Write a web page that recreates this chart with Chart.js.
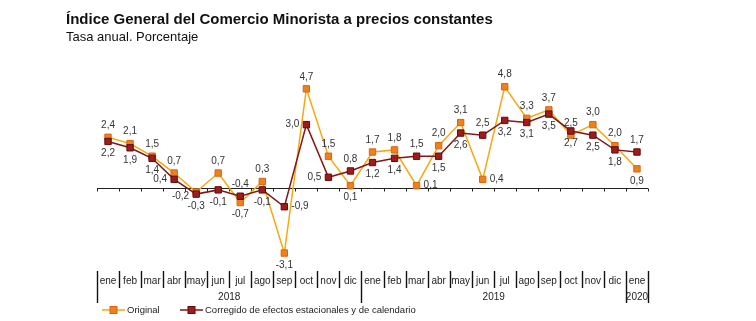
<!DOCTYPE html>
<html>
<head>
<meta charset="utf-8">
<script src="https://cdn.jsdelivr.net/npm/chart.js@4.4.1/dist/chart.umd.min.js"></script>
<style>
  html, body { margin:0; padding:0; background:#fff; }
  #wrap { position:relative; width:756px; height:321px; font-family:"Liberation Sans", Arial, sans-serif; }
  #title { position:absolute; left:66px; top:10px; font-size:15px; font-weight:bold; color:#111; white-space:nowrap; }
  #sub { position:absolute; left:66px; top:29px; font-size:13px; color:#111; white-space:nowrap; }
  #c { position:absolute; left:0; top:0; }
</style>
</head>
<body>
<div id="wrap">
  <canvas id="c" width="756" height="321"></canvas>
  <div id="title">Índice General del Comercio Minorista a precios constantes</div>
  <div id="sub">Tasa anual. Porcentaje</div>
</div>
<script>
// data
const months = ["ene","feb","mar","abr","may","jun","jul","ago","sep","oct","nov","dic",
                "ene","feb","mar","abr","may","jun","jul","ago","sep","oct","nov","dic","ene"];
const years = [{label:"2018", from:0, to:11}, {label:"2019", from:12, to:23}, {label:"2020", from:24, to:24}];
const original = [2.4, 2.1, 1.5, 0.7, -0.2, 0.7, -0.7, 0.3, -3.1, 4.7, 1.5, 0.1,
                  1.7, 1.8, 0.1, 2.0, 3.1, 0.4, 4.8, 3.3, 3.7, 2.5, 3.0, 2.0, 0.9];
const corregido = [2.2, 1.9, 1.4, 0.4, -0.3, -0.1, -0.4, -0.1, -0.9, 3.0, 0.5, 0.8,
                   1.2, 1.4, 1.5, 1.5, 2.6, 2.5, 3.2, 3.1, 3.5, 2.7, 2.5, 1.8, 1.7];
const seriesNames = ["Original", "Corregido de efectos estacionales y de calendario"];

const ORANGE_LINE = "#f5a910", ORANGE_PT = "#f07f1e", ORANGE_EDGE = "#d9660c";
const RED_LINE = "#801818", RED_PT = "#9e1c1c", RED_EDGE = "#5e0d0d";
const FONT = '"Liberation Sans", Arial, sans-serif';

// label placement tweaks: "dataset:index" -> side
const labelSide = {
  "0:4":"left", "1:4":"below", "1:5":"below", "1:3":"left",
  "1:8":"right", "1:9":"left", "1:10":"left",
  "0:14":"right", "0:17":"right",
  "0:21":"above", "1:21":"below"
};

const fmt = v => v.toFixed(1).replace(".", ",");

const labelsPlugin = {
  id: "valueLabels",
  afterDatasetsDraw(chart){
    const c = chart.ctx;
    c.save();
    c.font = "10px " + FONT;
    c.fillStyle = "#333";
    const vals = [original, corregido];
    chart.data.datasets.forEach((ds, di) => {
      const meta = chart.getDatasetMeta(di);
      meta.data.forEach((pt, i) => {
        const v = vals[di][i], other = vals[1-di][i];
        let side = labelSide[di+":"+i] || (v >= other ? (v === other && di === 1 ? "below" : "above") : "below");
        let x = pt.x, y = pt.y;
        c.textBaseline = "middle";
        if (side === "above"){ c.textAlign = "center"; y -= 12; }
        else if (side === "below"){ c.textAlign = "center"; y += 12; }
        else if (side === "left"){ c.textAlign = "right"; x -= 7; y += (di===0?4:0); }
        else { c.textAlign = "left"; x += 7; }
        c.fillText(fmt(v), x, y);
      });
    });
    c.restore();
  }
};

const axisPlugin = {
  id: "catAxis",
  beforeDatasetsDraw(chart){
    const c = chart.ctx, xs = chart.scales.x, ys = chart.scales.y;
    const y0 = Math.round(ys.getPixelForValue(0)) + 0.5;
    const half = (xs.getPixelForValue(1) - xs.getPixelForValue(0)) / 2;
    c.save();
    c.strokeStyle = "#222"; c.lineWidth = 1;
    c.beginPath();
    c.moveTo(xs.left, y0); c.lineTo(xs.right, y0);
    for (let i = 0; i <= months.length; i++){
      const bx = Math.round(xs.getPixelForValue(i) - half) + 0.5;
      c.moveTo(bx, y0); c.lineTo(bx, y0 + 3);
    }
    c.stroke();
    c.restore();
  },
  afterDraw(chart){
    const c = chart.ctx, xs = chart.scales.x;
    const half = (xs.getPixelForValue(1) - xs.getPixelForValue(0)) / 2;
    const top = chart.chartArea.bottom - 1;
    const yearStarts = new Set(years.map(y => y.from).concat([months.length]));
    c.save();
    c.strokeStyle = "#111"; c.lineWidth = 1.4;
    for (let i = 0; i <= months.length; i++){
      const bx = Math.round(xs.getPixelForValue(i) - half) + 0.5;
      c.beginPath();
      c.moveTo(bx, top);
      c.lineTo(bx, yearStarts.has(i) ? top + 32 : top + 17);
      c.stroke();
    }
    c.fillStyle = "#222";
    c.font = "10px " + FONT;
    c.textAlign = "center"; c.textBaseline = "middle";
    months.forEach((m, i) => c.fillText(m, xs.getPixelForValue(i), top + 10));
    years.forEach(y => {
      const cx = (xs.getPixelForValue(y.from) + xs.getPixelForValue(y.to)) / 2;
      c.fillText(y.label, cx, top + 26);
    });
    // legend
    const ly = 310;
    c.font = "9.5px " + FONT;
    const items = [
      {x:102, line:ORANGE_LINE, pt:ORANGE_PT, edge:ORANGE_EDGE},
      {x:180, line:RED_LINE, pt:RED_PT, edge:RED_EDGE}
    ];
    items.forEach((it, k) => {
      c.strokeStyle = it.line; c.lineWidth = 1.5;
      c.beginPath(); c.moveTo(it.x, ly); c.lineTo(it.x + 23, ly); c.stroke();
      c.fillStyle = it.pt; c.strokeStyle = it.edge; c.lineWidth = 1;
      c.fillRect(it.x + 8, ly - 3.5, 7, 7);
      c.strokeRect(it.x + 8, ly - 3.5, 7, 7);
      c.fillStyle = "#222";
      c.textAlign = "left";
      c.fillText(seriesNames[k], it.x + 25, ly);
    });
    c.restore();
  }
};

new Chart(document.getElementById("c"), {
  type: "line",
  data: {
    labels: months,
    datasets: [
      {label: seriesNames[0], data: original, borderColor: ORANGE_LINE, borderWidth: 1.5,
       pointStyle: "rect", pointRadius: 4.5, pointBackgroundColor: ORANGE_PT, pointBorderColor: ORANGE_EDGE,
       pointBorderWidth: 1, tension: 0, order: 2},
      {label: seriesNames[1], data: corregido, borderColor: RED_LINE, borderWidth: 1.5,
       pointStyle: "rect", pointRadius: 4.5, pointBackgroundColor: RED_PT, pointBorderColor: RED_EDGE,
       pointBorderWidth: 1, tension: 0, order: 1}
    ]
  },
  options: {
    responsive: false,
    animation: false,
    layout: { padding: { left: 97, right: 108, top: 72, bottom: 49 } },
    scales: {
      x: { display: false, offset: true },
      y: { display: false, min: -4, max: 5.5 }
    },
    plugins: { legend: { display: false }, tooltip: { enabled: false } }
  },
  plugins: [axisPlugin, labelsPlugin]
});
</script>
</body>
</html>
